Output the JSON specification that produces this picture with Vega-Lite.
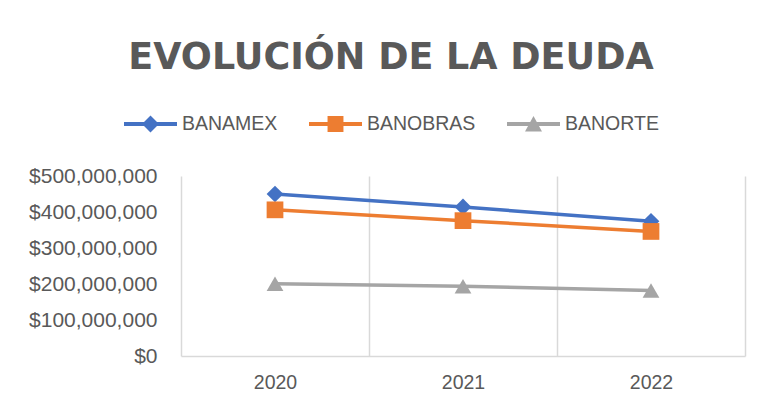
{
  "$schema": "https://vega.github.io/schema/vega-lite/v6.json",
  "autosize": "none",
  "width": 564,
  "height": 180,
  "padding": {"left": 181, "top": 176, "right": 17, "bottom": 53},
  "background": "white",
  "config": {"view": {"stroke": null}},
  "title": {
    "text": "EVOLUCIÓN DE LA DEUDA",
    "font": "DejaVu Sans",
    "fontSize": 36.5,
    "fontWeight": "bold",
    "color": "#595959",
    "anchor": "middle",
    "frame": "group",
    "dx": -72,
    "dy": 28,
    "baseline": "alphabetic",
    "offset": 20
  },
  "data": {
    "values": [
      {"year": "2020", "bank": "BANAMEX", "value": 450000000},
      {"year": "2021", "bank": "BANAMEX", "value": 414000000},
      {"year": "2022", "bank": "BANAMEX", "value": 374000000},
      {"year": "2020", "bank": "BANOBRAS", "value": 406000000},
      {"year": "2021", "bank": "BANOBRAS", "value": 376000000},
      {"year": "2022", "bank": "BANOBRAS", "value": 346000000},
      {"year": "2020", "bank": "BANORTE", "value": 201000000},
      {"year": "2021", "bank": "BANORTE", "value": 194000000},
      {"year": "2022", "bank": "BANORTE", "value": 182000000}
    ]
  },
  "encoding": {
    "x": {
      "field": "year",
      "type": "nominal",
      "scale": {"type": "band", "paddingInner": 0, "paddingOuter": 0},
      "axis": {
        "title": null,
        "labelAngle": 0,
        "tickBand": "extent",
        "ticks": false,
        "grid": true,
        "gridColor": "#D9D9D9",
        "gridWidth": 1.5,
        "domain": true,
        "domainColor": "#D9D9D9",
        "domainWidth": 1.5,
        "labelFont": "Liberation Sans",
        "labelFontSize": 19.5,
        "labelColor": "#595959",
        "labelPadding": 17
      }
    },
    "y": {
      "field": "value",
      "type": "quantitative",
      "scale": {"domain": [0, 500000000]},
      "axis": {
        "title": null,
        "values": [0, 100000000, 200000000, 300000000, 400000000, 500000000],
        "format": "$,.0f",
        "grid": false,
        "ticks": false,
        "domain": false,
        "labelFont": "Liberation Sans",
        "labelFontSize": 21,
        "labelColor": "#595959",
        "labelPadding": 24
      }
    },
    "color": {
      "field": "bank",
      "type": "nominal",
      "scale": {"domain": ["BANAMEX", "BANOBRAS", "BANORTE"], "range": ["#4472C4", "#ED7D31", "#A5A5A5"]},
      "legend": {
        "title": null,
        "orient": "none",
        "direction": "horizontal",
        "legendX": -57,
        "legendY": -78.5,
        "symbolSize": 2809,
        "symbolStrokeWidth": 0,
        "labelFont": "Liberation Sans",
        "labelFontSize": 19.5,
        "labelColor": "#595959",
        "labelOffset": 5,
        "columnPadding": 31,
        "padding": 0,
        "encode": {
          "symbols": {
            "update": {
              "shape": {"signal": "datum.value === 'BANAMEX' ? 'M-1,-0.075H1V0.075H-1Z M0,-0.32L0.32,0L0,0.32L-0.32,0Z' : datum.value === 'BANOBRAS' ? 'M-1,-0.075H1V0.075H-1Z M-0.3,-0.3H0.3V0.3H-0.3Z' : 'M-1,-0.075H1V0.075H-1Z M0,-0.3L0.32,0.28H-0.32Z'"},
              "fill": {"scale": "color", "field": "value"},
              "stroke": {"value": "transparent"},
              "size": {"value": 2809}
            }
          }
        }
      }
    }
  },
  "layer": [
    {
      "mark": {"type": "line", "strokeWidth": 3.5, "strokeCap": "round"}
    },
    {
      "transform": [{"filter": "datum.bank === 'BANAMEX'"}],
      "mark": {"type": "point", "filled": true, "opacity": 1, "size": 280, "shape": "diamond"}
    },
    {
      "transform": [{"filter": "datum.bank === 'BANOBRAS'"}],
      "mark": {"type": "point", "filled": true, "opacity": 1, "size": 280, "shape": "square"}
    },
    {
      "transform": [{"filter": "datum.bank === 'BANORTE'"}],
      "mark": {"type": "point", "filled": true, "opacity": 1, "size": 280, "shape": "triangle-up"}
    }
  ]
}
